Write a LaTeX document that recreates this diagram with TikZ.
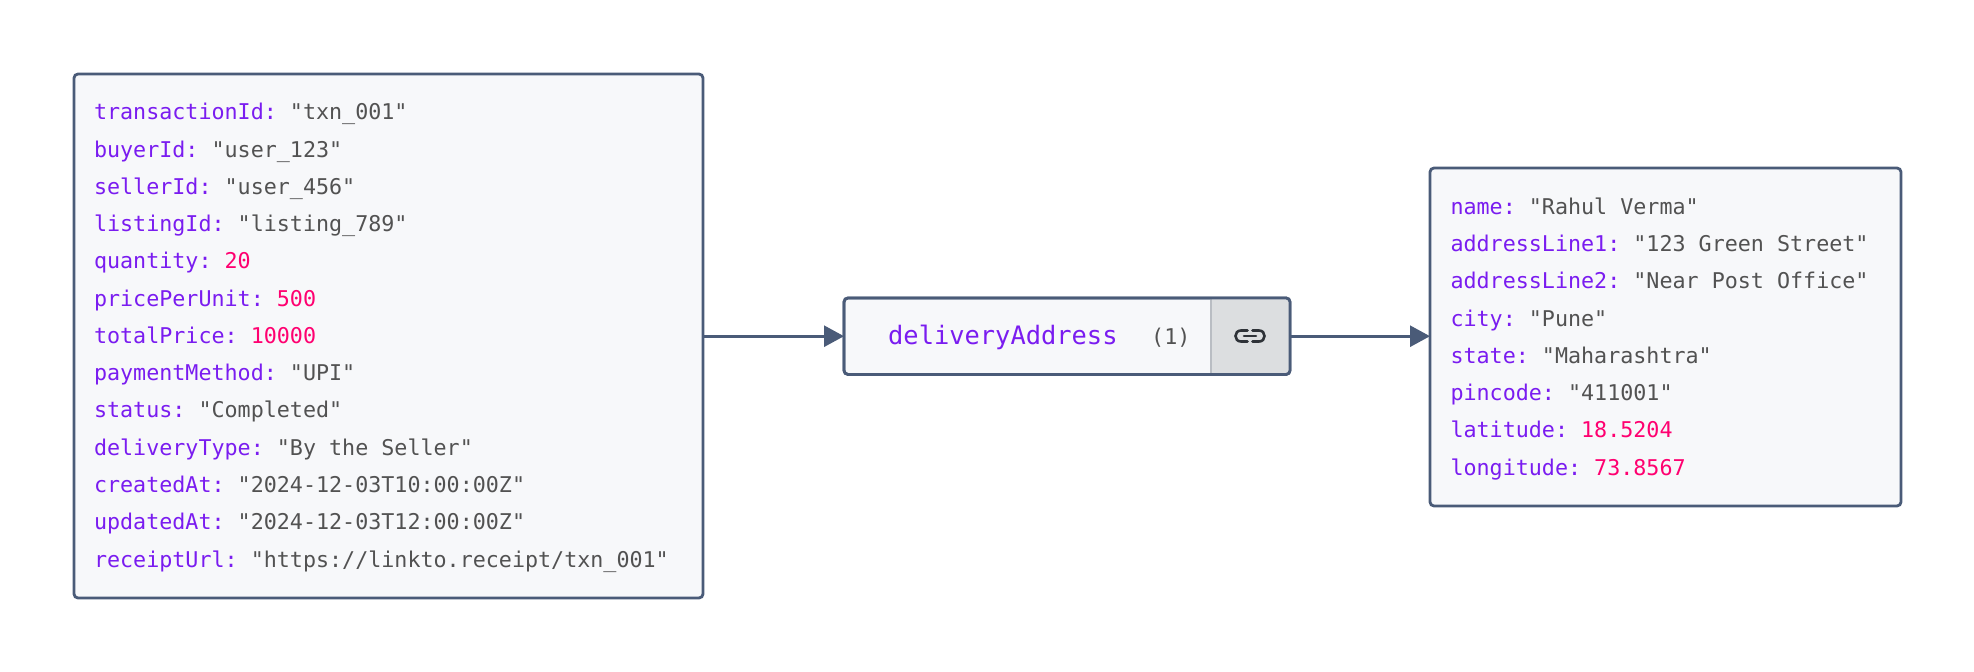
\documentclass[tikz,border=0pt]{standalone}
\usepackage{fontspec}
\usetikzlibrary{arrows.meta,calc}
\newfontfamily\monof{DejaVu Sans Mono}
\definecolor{keyc}{HTML}{7A1CF0}
\definecolor{numc}{HTML}{FF0070}
\definecolor{strc}{HTML}{525252}
\definecolor{edgec}{HTML}{4A5B78}
\definecolor{fillc}{HTML}{F7F8FA}
\definecolor{btnc}{HTML}{DCDEE0}
\definecolor{divc}{HTML}{B9BDC3}
\definecolor{iconc}{HTML}{2E3238}
\newcommand{\sg}{\hspace*{.602em}}
\newcommand{\kv}[2]{\textcolor{keyc}{#1:}\sg\textcolor{strc}{#2}}
\newcommand{\kn}[2]{\textcolor{keyc}{#1:}\sg\textcolor{numc}{#2}}
\newcommand{\toprow}{\rule{0pt}{20pt}}
\tikzset{
  x=1pt,y=-1pt,
  databox/.style={draw=edgec,fill=fillc,line width=2.8pt,rounded corners=4pt,outer sep=0pt,
    align=left,inner ysep=0pt,font=\monof\fontsize{21.7}{37.27}\selectfont},
  link/.style={draw=edgec,line width=2.7pt,-{Triangle[length=20pt,width=21pt,fill=edgec]}},
  icon/.style={draw=iconc,line width=2.6pt,line cap=round},
  lbl/.style={inner sep=0pt,anchor=base west}
}
\begin{document}
\begin{tikzpicture}
\useasboundingbox (0,0) rectangle (1974,672);
\node[databox,text width=589pt,inner xsep=20pt,minimum height=524pt] (txn) at (388.5,336) {%
\toprow\kv{transactionId}{"txn\_001"}\\
\kv{buyerId}{"user\_123"}\\
\kv{sellerId}{"user\_456"}\\
\kv{listingId}{"listing\_789"}\\
\kn{quantity}{20}\\
\kn{pricePerUnit}{500}\\
\kn{totalPrice}{10000}\\
\kv{paymentMethod}{"UPI"}\\
\kv{status}{"Completed"}\\
\kv{deliveryType}{"By\sg the\sg Seller"}\\
\kv{createdAt}{"2024-12-03T10:00:00Z"}\\
\kv{updatedAt}{"2024-12-03T12:00:00Z"}\\
\kv{receiptUrl}{"https://linkto.receipt/txn\_001"}};
\node[databox,minimum width=446pt,minimum height=76.5pt] (addr) at (1067,336.2) {};
\fill[btnc] (1211,298) [rounded corners=4pt] -- (1290,298) -- (1290,375) [sharp corners] -- (1211,375) -- cycle;
\draw[divc,line width=1.4pt] (1211,298) -- (1211,375);
\draw[edgec,line width=2.8pt,rounded corners=4pt] (addr.north west) rectangle (addr.south east);
\node[lbl,font=\monof\fontsize{25.4}{30}\selectfont,text=keyc] (addrname) at (888,344) {deliveryAddress};
\node[lbl,font=\monof\fontsize{21.7}{30}\selectfont,text=strc] (addrcount) at (1151,344.5) {(1)};
\draw[icon] (1247.5,330.5) -- (1241,330.5) .. controls (1237.5,330.5) and (1235.5,333) .. (1235.5,336) .. controls (1235.5,339) and (1237.5,341.5) .. (1241,341.5) -- (1247.5,341.5);
\draw[icon] (1252.5,330.5) -- (1259,330.5) .. controls (1262.5,330.5) and (1264.5,333) .. (1264.5,336) .. controls (1264.5,339) and (1262.5,341.5) .. (1259,341.5) -- (1252.5,341.5);
\draw[icon] (1244,336) -- (1256,336);
\node[databox,text width=430pt,inner xsep=20.5pt,minimum height=338pt] (loc) at (1665.5,337) {%
\toprow\kv{name}{"Rahul\sg Verma"}\\
\kv{addressLine1}{"123\sg Green\sg Street"}\\
\kv{addressLine2}{"Near\sg Post\sg Office"}\\
\kv{city}{"Pune"}\\
\kv{state}{"Maharashtra"}\\
\kv{pincode}{"411001"}\\
\kn{latitude}{18.5204}\\
\kn{longitude}{73.8567}};
\draw[link] (txn.east |- addr.east) -- (addr.west);
\draw[link] (addr.east) -- (addr.east -| loc.west);
\end{tikzpicture}
\end{document}
